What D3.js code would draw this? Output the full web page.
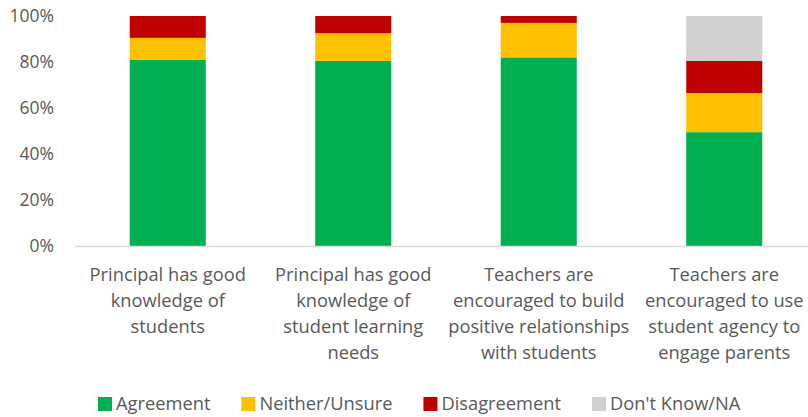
<!DOCTYPE html>
<meta charset="utf-8">
<title>stacked survey bars</title>
<style>
body { margin: 0; background: #fff; }
text { font-family: "Open Sans", Lato, sans-serif; fill: #595959; }
</style>
<script src="https://d3js.org/d3.v7.min.js"></script>
<body>
<script>
// chart data
var categories = [
  ["Principal has good", "knowledge of", "students"],
  ["Principal has good", "knowledge of", "student learning", "needs"],
  ["Teachers are", "encouraged to build", "positive relationships", "with students"],
  ["Teachers are", "encouraged to use", "student agency to", "engage parents"]
];
var seriesNames = ["Agreement", "Neither/Unsure", "Disagreement", "Don't Know/NA"];
var agreement    = [81, 80.5, 82, 49.5];
var neither      = [9.5, 12, 15, 17];
var disagreement = [9.5, 7.5, 3, 14];
var dontKnow     = [0, 0, 0, 19.5];
var yTicks = [0, 20, 40, 60, 80, 100];
var colors = ["#00b050", "#ffc000", "#c00000", "#d0cece"];

var width = 808, height = 417;
var svg = d3.select("body").append("svg")
    .attr("width", width)
    .attr("height", height);

var rows = categories.map(function(c, i) {
  return { i: i, Agreement: agreement[i], "Neither/Unsure": neither[i],
           Disagreement: disagreement[i], "Don't Know/NA": dontKnow[i] };
});
var stack = d3.stack().keys(seriesNames)(rows);

var x = d3.scaleBand()
    .domain(d3.range(categories.length))
    .range([75, 817])
    .paddingInner(0.59)
    .paddingOuter(0.295);
var y = d3.scaleLinear().domain([0, 100]).range([246, 16]);

// bars
svg.selectAll("g.series")
    .data(stack)
  .enter().append("g")
    .attr("class", "series")
    .attr("fill", function(d, i) { return colors[i]; })
  .selectAll("rect")
    .data(function(d) { return d; })
  .enter().append("rect")
    .attr("x", function(d) { return x(d.data.i); })
    .attr("width", x.bandwidth())
    .attr("y", function(d) { return y(d[1]); })
    .attr("height", function(d) { return y(d[0]) - y(d[1]); });

// y axis labels
svg.selectAll("text.ytick")
    .data(yTicks)
  .enter().append("text")
    .attr("class", "ytick")
    .attr("x", 54)
    .attr("y", function(d) { return y(d) + 6; })
    .attr("text-anchor", "end")
    .style("font-size", "17.5px")
    .text(function(d) { return d + "%"; });

// baseline
svg.append("line")
    .attr("x1", 75).attr("x2", 808)
    .attr("y1", 246.5).attr("y2", 246.5)
    .attr("stroke", "#d9d9d9")
    .attr("stroke-width", 1.5);

// category labels
var cat = svg.selectAll("text.cat")
    .data(categories)
  .enter().append("text")
    .attr("class", "cat")
    .attr("text-anchor", "middle")
    .style("font-size", "18.3px");
cat.selectAll("tspan")
    .data(function(d, i) { return d.map(function(s) { return { s: s, i: i }; }); })
  .enter().append("tspan")
    .attr("x", function(d) { return x(d.i) + x.bandwidth() / 2; })
    .attr("y", function(d, j) { return 281 + j * 26; })
    .text(function(d) { return d.s; });

// legend, laid out from the measured text widths
var lx = 98;
seriesNames.forEach(function(name, i) {
  var g = svg.append("g").attr("transform", "translate(" + lx + ",397)");
  g.append("rect")
      .attr("width", 14).attr("height", 14)
      .attr("fill", colors[i]);
  var t = g.append("text")
      .attr("x", 18)
      .attr("y", 13)
      .style("font-size", "18.3px")
      .text(name);
  lx += 18 + t.node().getComputedTextLength() + 31;
});
</script>
